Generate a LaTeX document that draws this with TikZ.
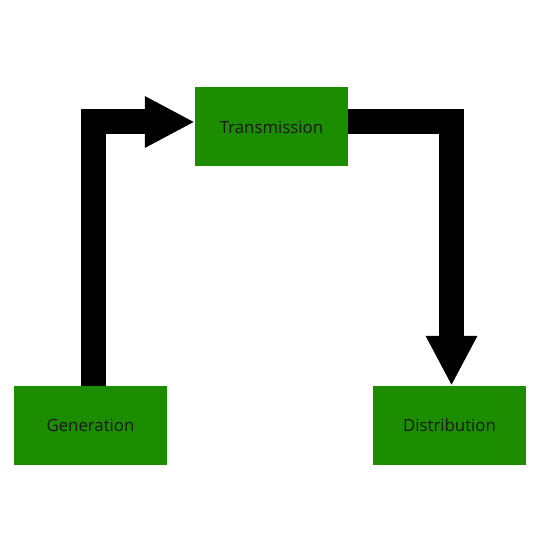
\documentclass[tikz,border=0pt]{standalone}
\usepackage{fontspec}
\setmainfont{Open Sans}
\usetikzlibrary{arrows.meta}
\definecolor{boxgreen}{RGB}{28,140,0}
\tikzset{
  stage/.style={fill=boxgreen, minimum width=153pt, minimum height=79pt, inner sep=0pt, text=black!90, font=\fontsize{16.8}{19}\selectfont},
  bigarrow/.style={line width=25pt, miter limit=10, line join=miter, -{Triangle[width=48pt,length=50pt]}}
}
\begin{document}
\begin{tikzpicture}[x=1pt,y=-1pt]
\useasboundingbox (0,0) rectangle (540,540);
\node[stage] (Trans) at (271.5,127) {Transmission};
\node[stage] (Gen) at (90.5,425.5) {Generation};
\node[stage] (Dist) at (449.5,425.5) {Distribution};
\draw[bigarrow] ([xshift=2.5pt]Gen.north) |- ([yshift=5pt]Trans.west);
\draw[bigarrow] ([yshift=5pt]Trans.east) -| ([xshift=2pt]Dist.north);
\end{tikzpicture}
\end{document}
